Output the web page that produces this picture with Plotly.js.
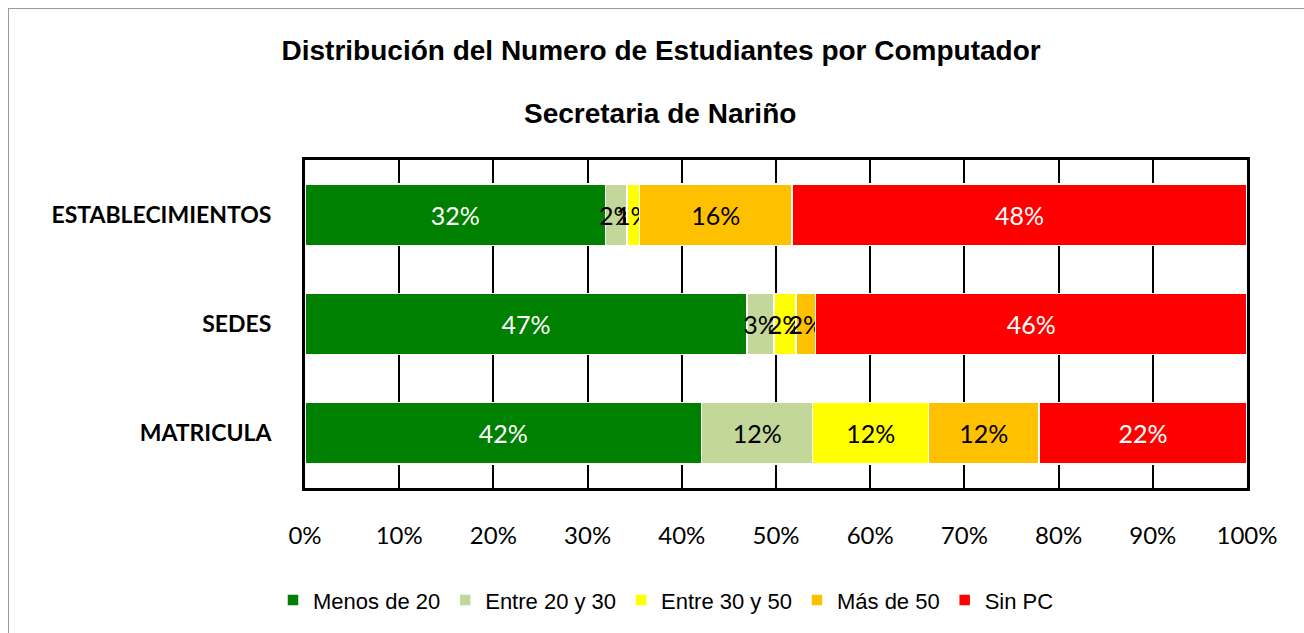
<!DOCTYPE html>
<html>
<head>
<meta charset="utf-8">
<script src="https://cdn.plot.ly/plotly-3.0.1.min.js"></script>
<style>
  html, body { margin: 0; padding: 0; background: #fff; overflow: hidden; }
  #chart { width: 1304px; height: 633px; position: absolute; left: 0; top: 0; }
  #frame { position: absolute; left: 8px; top: 8px; width: 1320px; height: 660px; border: 1px solid #9a9a9a; pointer-events: none; }
</style>
</head>
<body>
<div id="chart"></div>
<div id="frame"></div>
<script>
// Data (percent), bottom-to-top category order
const categories = ["MATRICULA", "SEDES", "ESTABLECIMIENTOS"];
const seriesNames = ["Menos de 20", "Entre 20 y 30", "Entre 30 y 50", "Más de 50", "Sin PC"];
const menos20   = [42.1, 46.9, 31.9];
const entre2030 = [11.8, 2.9, 2.3];
const entre3050 = [12.3, 2.3, 1.3];
const mas50     = [11.7, 2.1, 16.2];
const sinPC     = [22.1, 45.8, 48.3];
const tickVals  = [0, 10, 20, 30, 40, 50, 60, 70, 80, 90, 100];
const tickText  = ["0%", "10%", "20%", "30%", "40%", "50%", "60%", "70%", "80%", "90%", "100%"];

const seriesValues = [menos20, entre2030, entre3050, mas50, sinPC];
const colors = ["#008000", "#c4d79b", "#ffff00", "#ffc000", "#ff0000"];
const textColors = ["#ffffff", "#000000", "#000000", "#000000", "#ffffff"];

const traces = seriesValues.map((vals, i) => ({
  type: "bar",
  orientation: "h",
  name: seriesNames[i],
  y: categories,
  x: vals,
  marker: { color: colors[i], line: { color: "#ffffff", width: 1.5 } },
  text: vals.map(v => Math.round(v) + "%"),
  texttemplate: "%{text}",
  textposition: "inside",
  insidetextanchor: "middle",
  textangle: 0,
  constraintext: "none",
  cliponaxis: false,
  textfont: { family: "Lato, 'Open Sans', sans-serif", size: 25, color: textColors[i] },
  hoverinfo: "name+x"
}));

const layout = {
  width: 1304,
  height: 633,
  paper_bgcolor: "#ffffff",
  plot_bgcolor: "#ffffff",
  barmode: "stack",
  bargap: 0.44,
  margin: { l: 305, r: 57, t: 160, b: 143 },
  uniformtext: { mode: "show", minsize: 25 },
  title: {
    text: "Distribución del Numero de Estudiantes por Computador",
    font: { family: "'Liberation Sans', Arial, sans-serif", size: 28, color: "#000000", weight: "bold" },
    xref: "container", x: 0.507, xanchor: "center",
    yref: "container", y: 1 - 50 / 633, yanchor: "middle"
  },
  annotations: [{
    text: "<b>Secretaria de Nariño</b>",
    xref: "paper", yref: "paper",
    x: (660 - 305) / 942, y: (490 - 113) / 330,
    xanchor: "center", yanchor: "middle",
    showarrow: false,
    font: { family: "'Liberation Sans', Arial, sans-serif", size: 28, color: "#000000" }
  }],
  xaxis: {
    range: [0, 100],
    tickvals: tickVals,
    ticktext: tickText,
    showgrid: true,
    gridcolor: "#000000",
    gridwidth: 2,
    zeroline: false,
    showline: true,
    linecolor: "#000000",
    linewidth: 3,
    mirror: true,
    ticks: "",
    ticklabelstandoff: 24,
    tickfont: { family: "Lato, 'Open Sans', sans-serif", size: 24, color: "#000000" },
    fixedrange: true
  },
  yaxis: {
    categoryorder: "array",
    categoryarray: categories,
    range: [-0.5, 2.5],
    showgrid: false,
    zeroline: false,
    showline: true,
    linecolor: "#000000",
    linewidth: 3,
    mirror: true,
    ticks: "",
    ticklabelstandoff: 26,
    tickfont: { family: "Lato, 'Open Sans', sans-serif", size: 23, color: "#000000", weight: "bold" },
    fixedrange: true
  },
  showlegend: true,
  legend: {
    orientation: "h",
    x: (273 - 305) / 942,
    xanchor: "left",
    y: (490 - 603) / 330,
    yanchor: "middle",
    traceorder: "normal",
    itemwidth: 30,
    font: { family: "'Liberation Sans', Arial, sans-serif", size: 22, color: "#000000" },
    bgcolor: "rgba(0,0,0,0)"
  }
};

Plotly.newPlot("chart", traces, layout, { displayModeBar: false, staticPlot: true });
</script>
</body>
</html>
